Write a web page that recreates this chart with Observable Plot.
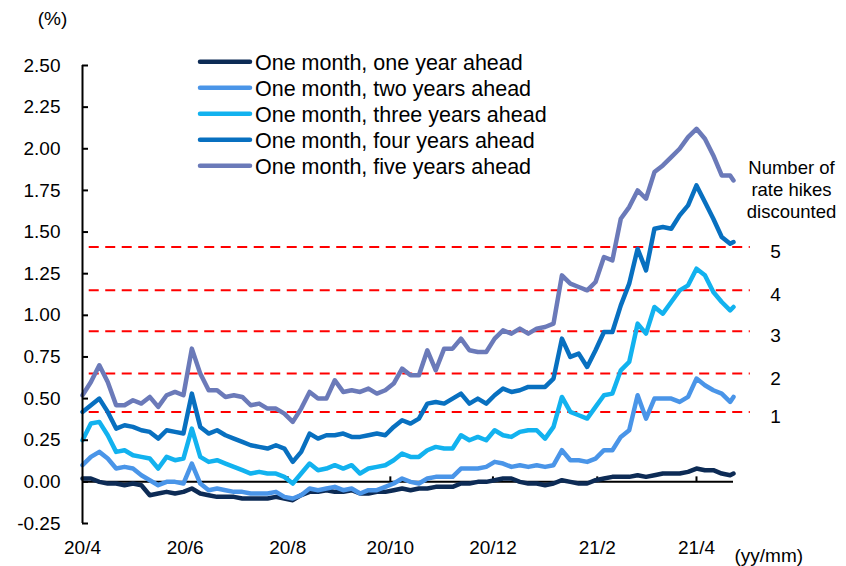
<!DOCTYPE html>
<html><head><meta charset="utf-8">
<script src="https://cdn.jsdelivr.net/npm/d3@7"></script>
<script src="https://cdn.jsdelivr.net/npm/@observablehq/plot@0.6"></script>
<style>
body{margin:0;background:#fff;}
#chart{position:relative;width:846px;height:566px;}
</style></head><body><div id="chart"></div>
<script>
const dates = [
"2020-04-01","2020-04-06","2020-04-11","2020-04-16","2020-04-21","2020-04-26","2020-05-01","2020-05-06","2020-05-11","2020-05-16",
"2020-05-21","2020-05-26","2020-05-31","2020-06-05","2020-06-10","2020-06-15","2020-06-20","2020-06-25","2020-06-30","2020-07-05",
"2020-07-10","2020-07-15","2020-07-20","2020-07-25","2020-07-30","2020-08-04","2020-08-09","2020-08-14","2020-08-19","2020-08-24",
"2020-08-29","2020-09-03","2020-09-08","2020-09-13","2020-09-18","2020-09-23","2020-09-28","2020-10-03","2020-10-08","2020-10-13",
"2020-10-18","2020-10-23","2020-10-28","2020-11-02","2020-11-07","2020-11-12","2020-11-17","2020-11-22","2020-11-27","2020-12-02",
"2020-12-07","2020-12-12","2020-12-17","2020-12-22","2020-12-27","2021-01-01","2021-01-06","2021-01-11","2021-01-16","2021-01-21",
"2021-01-26","2021-01-31","2021-02-05","2021-02-10","2021-02-15","2021-02-20","2021-02-25","2021-03-02","2021-03-07","2021-03-12",
"2021-03-17","2021-03-22","2021-03-27","2021-04-01","2021-04-06","2021-04-11","2021-04-16","2021-04-21","2021-04-23"];

const oneYear = [0.02,0.02,0.00,-0.01,-0.01,-0.02,-0.01,-0.02,-0.08,-0.07,
 -0.06,-0.07,-0.06,-0.04,-0.07,-0.08,-0.09,-0.09,-0.09,-0.10,
 -0.10,-0.10,-0.10,-0.09,-0.10,-0.11,-0.08,-0.06,-0.06,-0.05,
 -0.06,-0.06,-0.05,-0.07,-0.07,-0.06,-0.06,-0.05,-0.04,-0.05,
 -0.04,-0.04,-0.03,-0.03,-0.03,-0.01,-0.01,0.00,0.00,0.01,
 0.02,0.02,0.00,-0.01,-0.01,-0.02,-0.01,0.01,0.00,-0.01,
 -0.01,0.01,0.02,0.03,0.03,0.03,0.04,0.03,0.04,0.05,
 0.05,0.05,0.06,0.08,0.07,0.07,0.05,0.04,0.05];
const twoYears = [0.10,0.15,0.18,0.14,0.08,0.09,0.08,0.04,0.01,-0.02,
 0.00,0.00,-0.01,0.11,-0.01,-0.05,-0.04,-0.05,-0.06,-0.06,
 -0.07,-0.07,-0.07,-0.06,-0.09,-0.10,-0.08,-0.04,-0.05,-0.04,
 -0.03,-0.05,-0.04,-0.07,-0.05,-0.05,-0.03,-0.01,0.02,0.00,
 -0.01,0.02,0.03,0.03,0.03,0.08,0.08,0.08,0.09,0.12,
 0.11,0.09,0.10,0.09,0.10,0.09,0.10,0.19,0.13,0.13,
 0.12,0.14,0.19,0.19,0.27,0.31,0.52,0.38,0.50,0.50,
 0.50,0.48,0.51,0.62,0.58,0.55,0.53,0.48,0.51];
const threeYears = [0.25,0.35,0.36,0.28,0.18,0.19,0.16,0.15,0.14,0.08,
 0.15,0.13,0.14,0.32,0.15,0.12,0.13,0.11,0.09,0.07,
 0.05,0.06,0.05,0.05,0.03,-0.01,0.05,0.11,0.07,0.08,
 0.10,0.08,0.10,0.05,0.08,0.09,0.10,0.13,0.17,0.15,
 0.15,0.19,0.21,0.20,0.20,0.28,0.25,0.27,0.25,0.31,
 0.28,0.27,0.30,0.31,0.31,0.26,0.33,0.51,0.42,0.40,
 0.38,0.45,0.52,0.53,0.67,0.72,0.95,0.89,1.05,1.01,
 1.08,1.15,1.18,1.28,1.24,1.14,1.08,1.03,1.05];
const fourYears = [0.42,0.46,0.50,0.42,0.32,0.34,0.33,0.31,0.30,0.26,
 0.31,0.30,0.29,0.53,0.33,0.29,0.31,0.28,0.26,0.24,
 0.22,0.21,0.20,0.22,0.20,0.12,0.18,0.29,0.26,0.28,
 0.28,0.29,0.27,0.27,0.28,0.29,0.28,0.33,0.37,0.35,
 0.38,0.47,0.48,0.47,0.50,0.53,0.47,0.50,0.47,0.52,
 0.56,0.54,0.55,0.57,0.57,0.57,0.62,0.86,0.75,0.77,
 0.69,0.79,0.90,0.90,1.06,1.19,1.40,1.27,1.52,1.53,
 1.52,1.60,1.66,1.78,1.68,1.58,1.47,1.43,1.44];
const fiveYears = [0.52,0.60,0.70,0.60,0.46,0.46,0.49,0.47,0.51,0.45,
 0.52,0.54,0.52,0.80,0.65,0.55,0.55,0.51,0.52,0.51,
 0.46,0.47,0.44,0.44,0.41,0.36,0.44,0.54,0.50,0.50,
 0.61,0.54,0.55,0.54,0.56,0.53,0.55,0.59,0.68,0.64,
 0.64,0.79,0.67,0.80,0.80,0.86,0.79,0.78,0.78,0.86,
 0.91,0.89,0.92,0.89,0.92,0.93,0.95,1.24,1.19,1.17,
 1.15,1.20,1.35,1.33,1.58,1.65,1.75,1.70,1.86,1.90,
 1.95,2.00,2.07,2.12,2.06,1.96,1.84,1.84,1.81];

const seriesNames = ["One month, one year ahead","One month, two years ahead","One month, three years ahead","One month, four years ahead","One month, five years ahead"];
const seriesColors = ["#0d2b55","#4a95e8","#12b2ef","#0870c0","#6b7ab9"];
const hikeLevels = [0.42, 0.65, 0.905, 1.15, 1.41];
const hikeLabels = ["1","2","3","4","5"];
const yTicks = [-0.25,0,0.25,0.5,0.75,1,1.25,1.5,1.75,2,2.25,2.5];
const xTickDates = ["2020-04-01","2020-06-01","2020-08-01","2020-10-01","2020-12-01","2021-02-01","2021-04-01"];

const parse = d3.utcParse("%Y-%m-%d");
const allValues = [oneYear, twoYears, threeYears, fourYears, fiveYears];
const data = [];
allValues.forEach((vals, i) => vals.forEach((v, j) => data.push({date: parse(dates[j]), value: v, series: seriesNames[i]})));
const xTicks = xTickDates.map(parse);
const xStart = parse("2020-04-01"), xEnd = parse("2021-04-23");
const dashStart = parse("2020-04-05"), dashEnd = parse("2021-05-03");
const font = "'Liberation Sans', Arial, sans-serif";

const chart = Plot.plot({
  width: 846, height: 566,
  marginLeft: 82, marginRight: 113, marginTop: 65, marginBottom: 43,
  style: {fontFamily: font, fontSize: "19px", color: "#000", background: "#fff", overflow: "visible"},
  x: {type: "utc", domain: [xStart, xEnd], label: null},
  y: {domain: [-0.25, 2.5], label: null},
  color: {domain: seriesNames, range: seriesColors},
  marks: [
    Plot.ruleY(hikeLevels, {y: d => d, x1: () => dashStart, x2: () => dashEnd, stroke: "#ff0000", strokeWidth: 2, strokeDasharray: "10,6.5"}),
    Plot.text(hikeLevels, {x: () => xEnd, y: d => d, text: (d, i) => hikeLabels[i], dx: 42, dy: 5, fontSize: 19}),
    Plot.ruleY([0], {stroke: "#000", strokeWidth: 2}),
    Plot.ruleX(xTicks.slice(1), {x: d => d, y1: 0, y2: 0.03, stroke: "#000", strokeWidth: 2}),
    Plot.line(data, {x: "date", y: "value", z: "series", stroke: "series", strokeWidth: 4.5, strokeLinejoin: "round", strokeLinecap: "round"}),
    Plot.ruleX([xStart], {stroke: "#000", strokeWidth: 2}),
    Plot.tickY(yTicks, {y: d => d, insetRight: 645, stroke: "#000", strokeWidth: 2}),
    Plot.axisY({ticks: yTicks, tickFormat: d => d.toFixed(2), tickSize: 0, tickPadding: 22, fontSize: 19, label: null}),
    Plot.axisX({ticks: xTicks, tickFormat: d => `${d.getUTCFullYear() % 100}/${d.getUTCMonth() + 1}`, tickSize: 0, tickPadding: 17, fontSize: 19, label: null}),
    Plot.text(["(%)"], {frameAnchor: "top-left", textAnchor: "middle", lineAnchor: "middle", dx: -30, dy: -47, fontSize: 19}),
    Plot.text(["(yy/mm)"], {frameAnchor: "bottom-right", textAnchor: "start", lineAnchor: "middle", dx: 1, dy: 32, fontSize: 19}),
    Plot.text(["Number of\nrate hikes\ndiscounted"], {frameAnchor: "top-right", textAnchor: "middle", lineAnchor: "middle", dx: 58, dy: 123, lineHeight: 1.19, fontSize: 18.5})
  ]
});

// legend inside the plot area
const svg = d3.select(chart);
const lg = svg.append("g").attr("text-anchor", "start");
seriesNames.forEach((name, i) => {
  const y = 61.8 + 26 * i;
  lg.append("line").attr("x1", 200).attr("x2", 250).attr("y1", y).attr("y2", y)
    .attr("stroke", seriesColors[i]).attr("stroke-width", 4.5).attr("stroke-linecap", "round");
  lg.append("text").attr("x", 255).attr("y", y + 7.7).attr("font-size", "21.5px")
    .attr("text-anchor", "start").attr("font-family", font).attr("fill", "#000").text(name);
});

document.getElementById("chart").appendChild(chart);
</script></body></html>
